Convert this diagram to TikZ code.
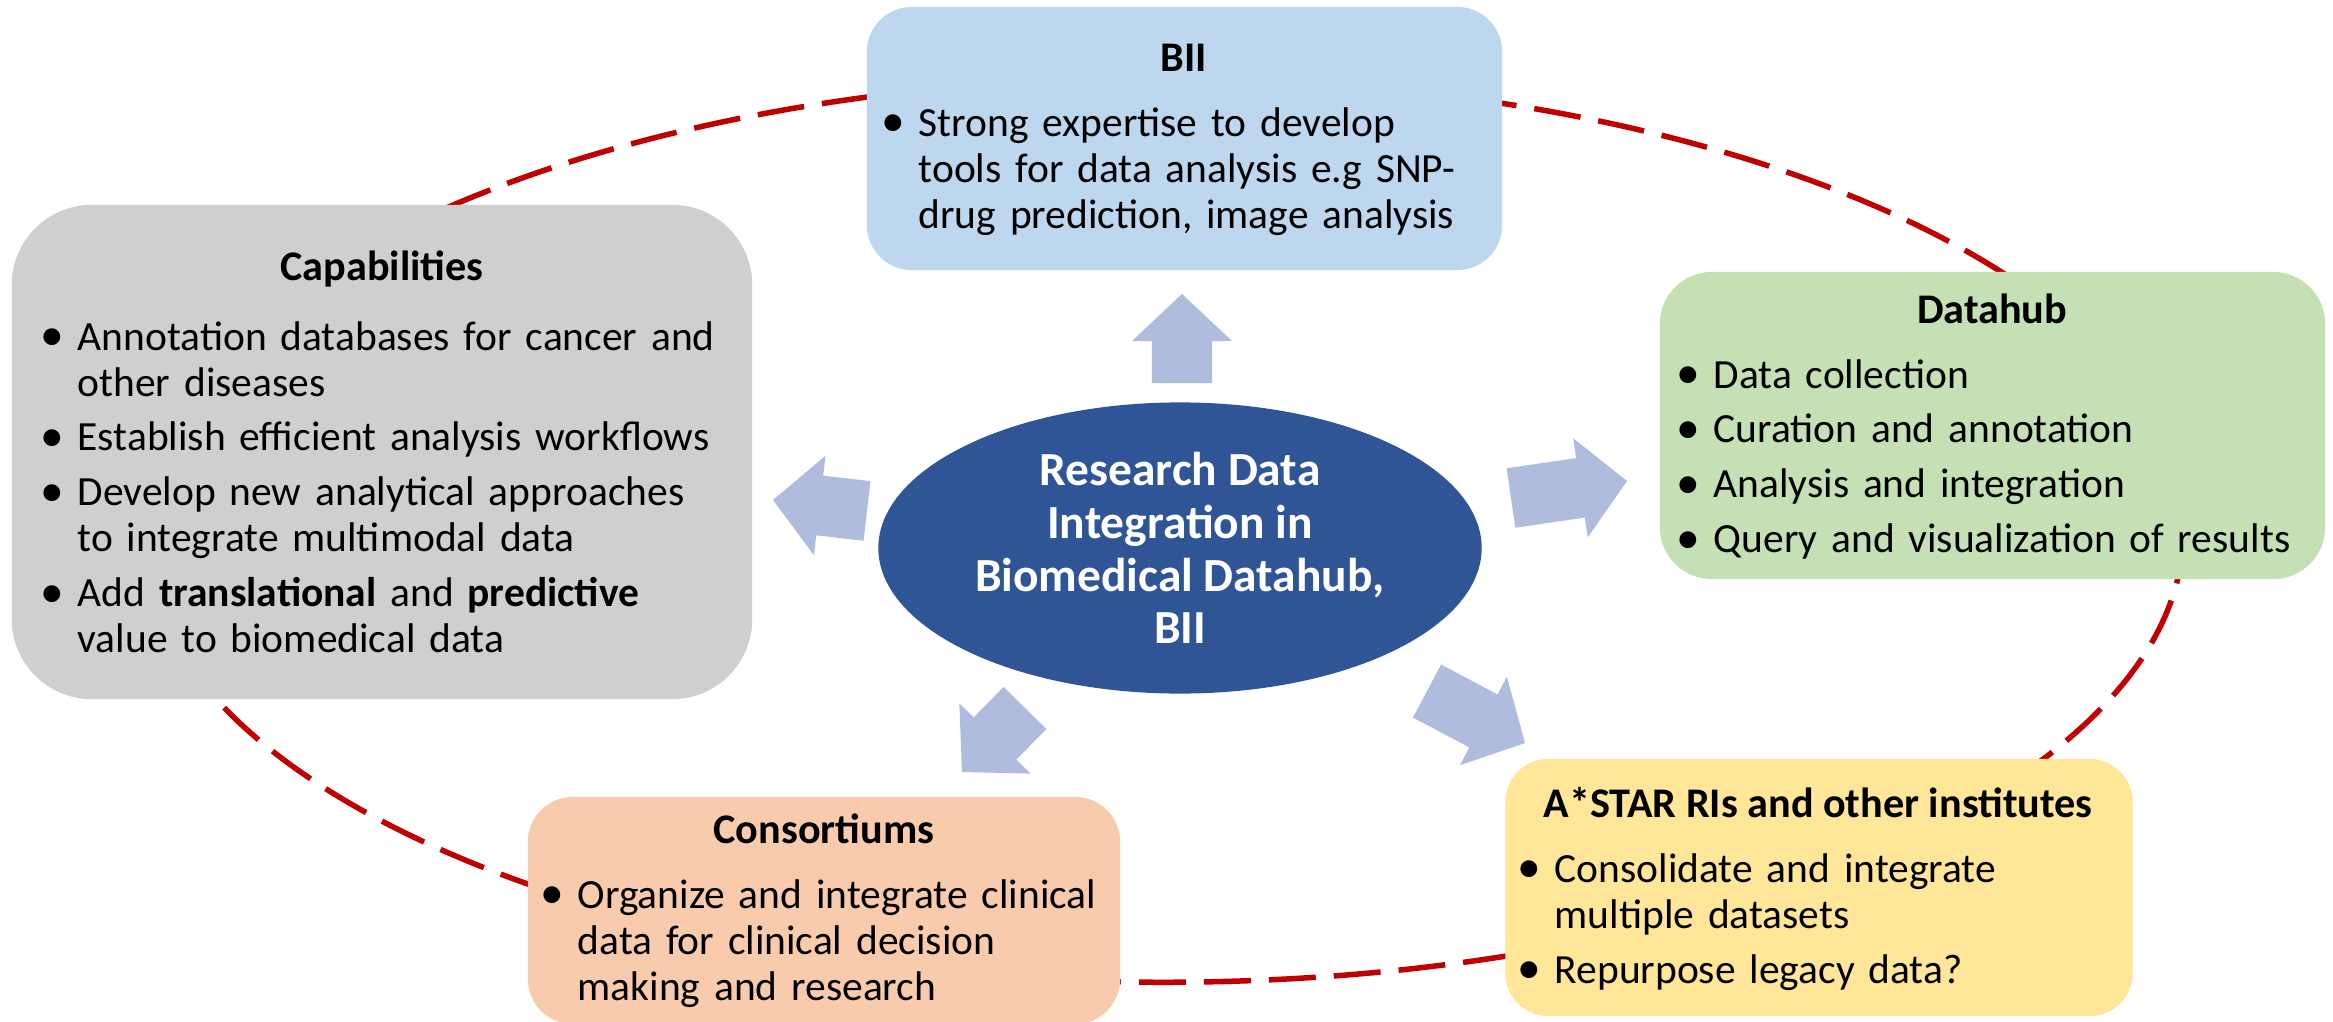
\documentclass[tikz,border=0pt]{standalone}
\usepackage{fontspec}
\setmainfont{Carlito}
\usetikzlibrary{calc,shapes.geometric}

\definecolor{biifill}{HTML}{BDD7EE}
\definecolor{capfill}{HTML}{D0CECE}
\definecolor{hubfill}{HTML}{C5E0B4}
\definecolor{consfill}{HTML}{F8CBAD}
\definecolor{starfill}{HTML}{FFE699}
\definecolor{corefill}{HTML}{2F5597}
\definecolor{arrowfill}{HTML}{B0BCDE}
\definecolor{ringred}{HTML}{C00000}

% one bullet point with a hanging indent
\newcommand\bul[1]{\par\hangindent=9.1pt\hangafter=1\noindent
  \makebox[9.1pt][l]{\hspace*{-1.6pt}\raisebox{-0.2pt}{\fontsize{13.5pt}{13.5pt}\selectfont\textbullet}}#1\par}
\newcommand\bgap{\vspace{2.5pt}}

% block arrow from tail coordinate #1 to tip coordinate #2
\newcommand\blockarrow[2]{%
  \path coordinate (ba-h) at ($(#2)!0.47cm!(#1)$);
  \fill[flowarrow]
    ($(#1)!0.3cm!90:(#2)$) -- ($(ba-h)!0.3cm!90:(#2)$) -- ($(ba-h)!0.5cm!90:(#2)$)
    -- (#2)
    -- ($(ba-h)!0.5cm!-90:(#2)$) -- ($(ba-h)!0.3cm!-90:(#2)$) -- ($(#1)!0.3cm!-90:(#2)$) -- cycle;
}

\tikzset{
  panel/.style={rectangle, inner sep=0pt, draw=none},
  paneltitle/.style={anchor=base, inner sep=0pt, font=\fontsize{12pt}{13.1pt}\selectfont\bfseries},
  bullets/.style={anchor=base west, inner sep=0pt, text width=8cm,
    font=\fontsize{11.8pt}{13.1pt}\selectfont},
  flowarrow/.style={fill=arrowfill},
  dashring/.style={draw=ringred, line width=0.055cm, dash pattern=on 0.47cm off 0.18cm},
  core/.style={ellipse, fill=corefill, inner sep=0pt, text=white, align=center,
    font=\fontsize{13.5pt}{15pt}\selectfont\bfseries}
}

\begin{document}
\begin{tikzpicture}[x=0.01cm, y=-0.01cm]
\useasboundingbox (0,0) rectangle (2333,1021);
\clip (0,0) rectangle (2333,1021);
\fill[white] (0,0) rectangle (2333,1021);

% dashed ring running behind all panels
\draw[dashring] (1163,530) ellipse [x radius=10.2cm, y radius=4.52cm];

% panels
\node[panel, fill=biifill, rounded corners=0.45cm, minimum width=6.35cm, minimum height=2.63cm] (bii) at (1184.5,138.5) {};
\node[panel, fill=capfill, rounded corners=0.8cm, minimum width=7.4cm, minimum height=4.94cm] (cap) at (382,452) {};
\node[panel, fill=hubfill, rounded corners=0.52cm, minimum width=6.65cm, minimum height=3.07cm] (dhub) at (1992.5,425.5) {};
\node[panel, fill=consfill, rounded corners=0.45cm, minimum width=5.92cm, minimum height=2.27cm] (cons) at (824,910.5) {};
\node[panel, fill=starfill, rounded corners=0.43cm, minimum width=6.27cm, minimum height=2.57cm] (star) at (1819,887.5) {};

% central topic
\node[core, minimum width=6.03cm, minimum height=2.91cm] (core) at (1180,548)
  {Research Data\\Integration in\\Biomedical Datahub,\\BII};

% arrows from the centre out to the panels
\coordinate (upT) at (1182,383);   \coordinate (upH) at (1182,294);
\coordinate (lfT) at (867,511);    \coordinate (lfH) at (773,500);
\coordinate (rtT) at (1511,498);   \coordinate (rtH) at (1627,481);
\coordinate (dlT) at (1025,708);   \coordinate (dlH) at (962,772);
\coordinate (drT) at (1427,691);   \coordinate (drH) at (1525,743);
\blockarrow{upT}{upH}
\blockarrow{lfT}{lfH}
\blockarrow{rtT}{rtH}
\blockarrow{dlT}{dlH}
\blockarrow{drT}{drH}

% BII
\node[paneltitle] (biiT) at (1184,71) {BII};
\node[bullets] (biiL) at (886,90) {%
  \bul{Strong expertise to develop\newline tools for data analysis e.g SNP-\newline drug prediction, image analysis}};

% Capabilities
\node[paneltitle] (capT) at (382,280) {Capabilities};
\node[bullets] (capL) at (45,304) {%
  \bul{Annotation databases for cancer and\newline other diseases}\bgap
  \bul{Establish efficient analysis workflows}\bgap
  \bul{Develop new analytical approaches\newline to integrate multimodal data}\bgap
  \bul{Add \textbf{translational} and \textbf{predictive}\newline value to biomedical data}};

% Datahub
\node[paneltitle] (dhubT) at (1992,323) {Datahub};
\node[bullets] (dhubL) at (1681,342) {%
  \bul{Data collection}\bgap
  \bul{Curation and annotation}\bgap
  \bul{Analysis and integration}\bgap
  \bul{Query and visualization of results}};

% Consortiums
\node[paneltitle] (consT) at (824,843) {Consortiums};
\node[bullets] (consL) at (545,862) {%
  \bul{Organize and integrate clinical\newline data for clinical decision\newline making and research}};

% A*STAR
\node[paneltitle] (starT) at (1818,817) {A*STAR RIs and other institutes};
\node[bullets] (starL) at (1522,836) {%
  \bul{Consolidate and integrate\newline multiple datasets}\bgap
  \bul{Repurpose legacy data?}};
\end{tikzpicture}
\end{document}
